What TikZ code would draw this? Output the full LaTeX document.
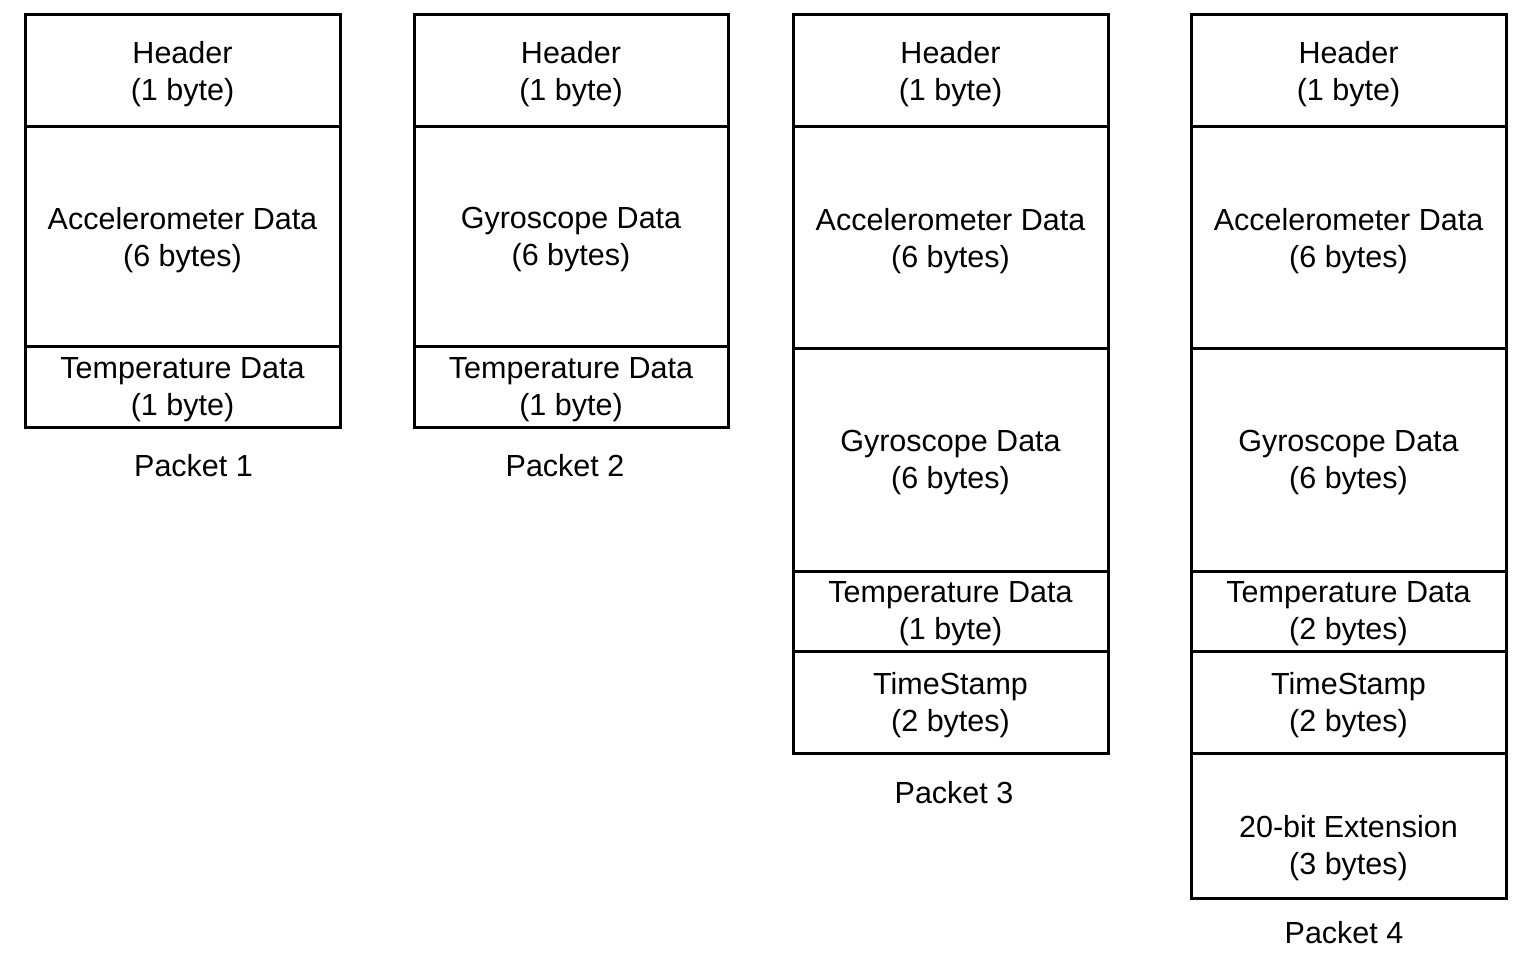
\documentclass[tikz,border=0pt]{standalone}
\usepackage{fontspec}
\setmainfont{Liberation Sans}
\begin{document}
\begin{tikzpicture}[x=1pt,y=-1pt,
  cell/.style={draw=black,line width=3pt,rectangle,inner sep=0pt},
  w1/.style={minimum width=315pt},
  w2/.style={minimum width=314pt},
  lbl/.style={inner sep=0pt,align=center,font=\fontsize{30.5}{37}\selectfont},
  txt/.style={label={[lbl,yshift=-3pt]center:{#1}}}]
\useasboundingbox (0,0) rectangle (1515,957);
\fill[white] (0,0) rectangle (1515,957);
% Packet 1
\node[cell,w1,minimum height=112pt,txt={Header\\(1 byte)}] (a1) at (182.5,71) {};
\node[cell,w1,minimum height=220pt,txt={Accelerometer Data\\(6 bytes)}] (a2) at (182.5,237) {};
\node[cell,w1,minimum height=80pt,txt={Temperature Data\\(1 byte)}] (a3) at (182.5,387) {};
\node[lbl] (pa) at (193.5,466) {Packet 1};
% Packet 2
\node[cell,w2,minimum height=112pt,txt={Header\\(1 byte)}] (b1) at (571,71) {};
\node[cell,w2,minimum height=220pt,txt={Gyroscope Data\\(6 bytes)}] (b2) at (571,237) {};
\node[cell,w2,minimum height=80pt,txt={Temperature Data\\(1 byte)}] (b3) at (571,387) {};
\node[lbl] (pb) at (565,466) {Packet 2};
% Packet 3
\node[cell,w1,minimum height=112pt,txt={Header\\(1 byte)}] (c1) at (950.5,71) {};
\node[cell,w1,minimum height=222pt,txt={Accelerometer Data\\(6 bytes)}] (c2) at (950.5,238) {};
\node[cell,w1,minimum height=222pt,txt={Gyroscope Data\\(6 bytes)}] (c3) at (950.5,460) {};
\node[cell,w1,minimum height=80pt,txt={Temperature Data\\(1 byte)}] (c4) at (950.5,611) {};
\node[cell,w1,minimum height=102pt,txt={TimeStamp\\(2 bytes)}] (c5) at (950.5,702) {};
\node[lbl] (pc) at (954,793) {Packet 3};
% Packet 4
\node[cell,w1,minimum height=112pt,txt={Header\\(1 byte)}] (d1) at (1348.5,71) {};
\node[cell,w1,minimum height=222pt,txt={Accelerometer Data\\(6 bytes)}] (d2) at (1348.5,238) {};
\node[cell,w1,minimum height=222pt,txt={Gyroscope Data\\(6 bytes)}] (d3) at (1348.5,460) {};
\node[cell,w1,minimum height=80pt,txt={Temperature Data\\(2 bytes)}] (d4) at (1348.5,611) {};
\node[cell,w1,minimum height=102pt,txt={TimeStamp\\(2 bytes)}] (d5) at (1348.5,702) {};
\node[cell,w1,minimum height=145pt] (d6) at (1348.5,825.5) {};
\node[lbl] (d6t) at (1348.5,848) {20-bit Extension\\(3 bytes)};
\node[lbl] (pd) at (1344,933) {Packet 4};
\end{tikzpicture}
\end{document}
